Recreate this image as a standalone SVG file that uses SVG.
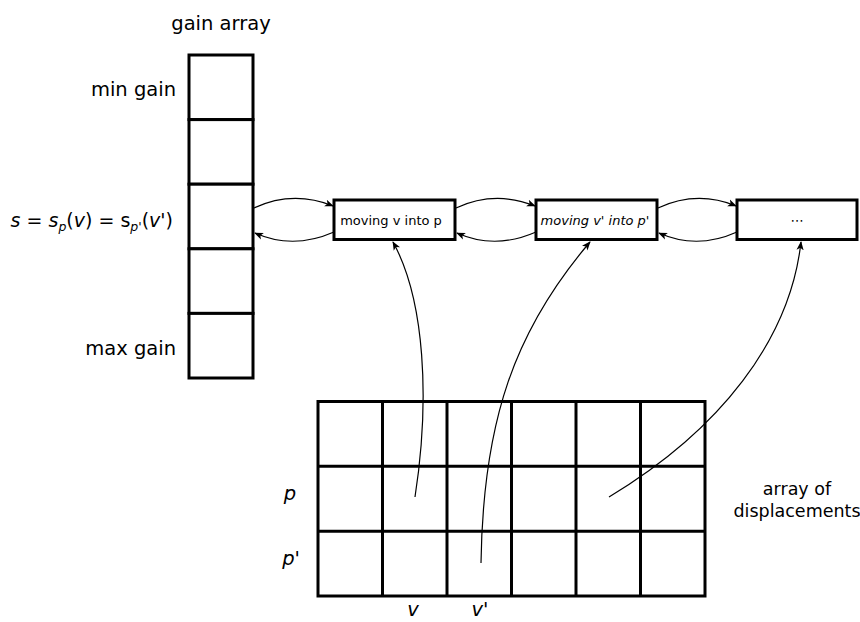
<svg xmlns="http://www.w3.org/2000/svg" width="860" height="622" viewBox="0 0 860 622">
<defs>
<style>
text{font-family:"DejaVu Sans","Liberation Sans",sans-serif;fill:#000}
.lbl{font-size:19.5px}
.box{font-size:13px}
.it{font-style:italic}
.cell{fill:#fff;stroke:#000;stroke-width:3}
.edge{fill:none;stroke:#000;stroke-width:1.2;marker-end:url(#ah)}
</style>
<marker id="ah" viewBox="0 0 10 10" refX="9" refY="5" markerWidth="9" markerHeight="9" markerUnits="userSpaceOnUse" orient="auto">
<path d="M0,1 L10,5 L0,9 L2.5,5 Z" fill="#000"/>
</marker>
</defs>
<rect width="860" height="622" fill="#fff"/>

<g id="gain-array">
<rect class="cell" x="189" y="55" width="64" height="64.6"/>
<rect class="cell" x="189" y="119.6" width="64" height="64.6"/>
<rect class="cell" x="189" y="184.2" width="64" height="64.6"/>
<rect class="cell" x="189" y="248.8" width="64" height="64.6"/>
<rect class="cell" x="189" y="313.4" width="64" height="64.6"/>
<text class="lbl" x="221" y="30" text-anchor="middle">gain array</text>
<text class="lbl" x="176" y="96" text-anchor="end">min gain</text>
<text class="lbl" x="176" y="355" text-anchor="end">max gain</text>
<text x="173" y="227" text-anchor="end" font-size="19"><tspan class="it">s</tspan> = <tspan class="it">s</tspan><tspan class="it" font-size="12.5" dy="4">p</tspan><tspan dy="-4">(</tspan><tspan class="it">v</tspan>) = s<tspan class="it" font-size="12.5" dy="4">p'</tspan><tspan dy="-4">(</tspan><tspan class="it">v'</tspan>)</text>
</g>

<g id="node-1">
<rect class="cell" x="334" y="200" width="121" height="39.5"/>
<text class="box" x="391" y="225" text-anchor="middle">moving v into p</text>
</g>
<g id="node-2">
<rect class="cell" x="536" y="200" width="121" height="39.5"/>
<text class="box it" x="595" y="225" text-anchor="middle">moving v' into p'</text>
</g>
<g id="node-3">
<rect class="cell" x="737" y="200" width="120" height="39.5"/>
<text class="box" x="797" y="225" text-anchor="middle">⋯</text>
</g>

<g id="displacement-array">
<g fill="none" stroke="#000" stroke-width="3">
<rect x="318" y="401.5" width="387" height="194.5"/>
<line x1="382.5" y1="401.5" x2="382.5" y2="596"/>
<line x1="447" y1="401.5" x2="447" y2="596"/>
<line x1="511.5" y1="401.5" x2="511.5" y2="596"/>
<line x1="576" y1="401.5" x2="576" y2="596"/>
<line x1="640.5" y1="401.5" x2="640.5" y2="596"/>
<line x1="318" y1="466.3" x2="705" y2="466.3"/>
<line x1="318" y1="531.2" x2="705" y2="531.2"/>
</g>
<text class="lbl it" x="290" y="500" text-anchor="middle">p</text>
<text class="lbl it" x="291" y="565" text-anchor="middle">p'</text>
<text class="lbl it" x="413" y="616" text-anchor="middle">v</text>
<text class="lbl it" x="480" y="616" text-anchor="middle">v'</text>
<text x="797" y="495" text-anchor="middle" font-size="17.5">array of</text>
<text x="797" y="517" text-anchor="middle" font-size="17.5">displacements</text>
</g>

<g id="connectors">
<path class="edge" d="M254,208 Q293,190 333,206"/>
<path class="edge" d="M334,232 Q293,250 255,233"/>
<path class="edge" d="M456,208 Q495,190 535,206"/>
<path class="edge" d="M536,232 Q495,250 457,233"/>
<path class="edge" d="M658,208 Q697,190 736,206"/>
<path class="edge" d="M737,232 Q697,250 659,233"/>
<path class="edge" d="M415,497 C430,400 425,300 393,242"/>
<path class="edge" d="M481,563 C483,420 515,330 590,242"/>
<path class="edge" d="M609,497 C720,430 790,340 801,242"/>
</g>
</svg>
